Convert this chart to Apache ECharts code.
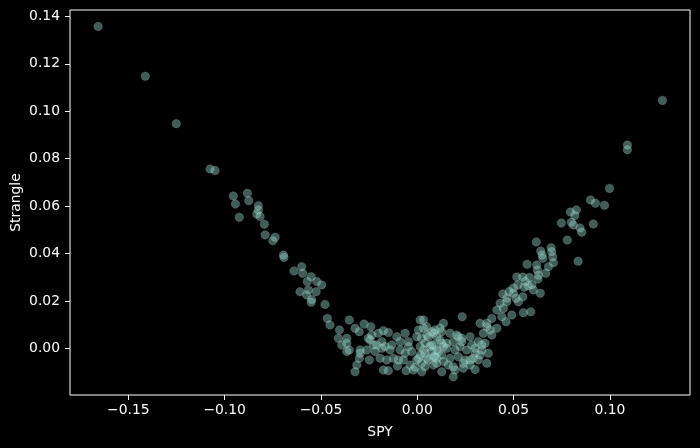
<!DOCTYPE html>
<html><head><meta charset="utf-8">
<script src="https://cdn.jsdelivr.net/npm/echarts@6/dist/echarts.min.js"></script>
<style>html,body{margin:0;padding:0;background:#000;}#c{width:700px;height:448px;}</style>
</head><body><div id="c"></div>
<script>
const spy = [
-0.1657,-0.1412,-0.1251,0.1273,0.1091,0.1091,
0.0998,0.0899,0.0925,0.0972,0.0826,0.0795,0.0818,0.0748,0.0800,0.0811,0.0914,0.0845,0.0854,0.0779,0.0618,0.0695,0.0641,0.0698,0.0648,0.0703,0.0652,0.0835,0.0707,0.0570,0.0620,0.0681,0.0624,0.0667,0.0629,0.0517,0.0548,0.0582,0.0627,0.0560,0.0522,0.0577,0.0596,0.0556,0.0499,0.0603,0.0639,0.0444,0.0477,0.0499,0.0548,0.0465,0.0513,
0.0430,0.0465,0.0525,0.0551,0.0589,0.0413,0.0447,0.0491,0.0461,0.0439,0.0387,0.0233,0.0326,0.0361,0.0413,0.0378,0.0343,0.0387,0.0136,0.0032,0.0049,0.0084,0.0127,0.0170,0.0205,0.0231,0.0274,0.0317,0.0352,0.0118,0.0153,0.0187,0.0222,0.0257,0.0300,0.0335,0.0369,0.0066,0.0101,0.0136,0.0040,0.0084,0.0127,0.0170,0.0213,0.0248,0.0291,0.0326,0.0361,0.0023,0.0058,0.0101,0.0127,0.0187,0.0196,0.0239,0.0300,0.0274,0.0161,
-0.0467,-0.0453,-0.0404,-0.0353,-0.0323,-0.0301,-0.0276,-0.0241,-0.0410,-0.0366,-0.0392,-0.0353,-0.0366,-0.0297,-0.0301,-0.0314,-0.0323,-0.0249,-0.0262,-0.0245,-0.0236,-0.0202,-0.0176,-0.0150,-0.0210,-0.0184,-0.0167,-0.0132,-0.0141,-0.0193,-0.0158,-0.0124,-0.0176,-0.0150,-0.0103,-0.0058,-0.0011,-0.0106,-0.0063,-0.0046,-0.0089,-0.0029,-0.0072,-0.0003,0.0015,0.0032,0.0049,0.0040,0.0015,0.0075,0.0092,0.0049,0.0015,0.0092,0.0101,-0.0003,
-0.1076,-0.1050,-0.0955,-0.0882,-0.0944,-0.0875,-0.0825,-0.0825,-0.0833,-0.0816,-0.0924,-0.0794,-0.0790,-0.0738,-0.0750,-0.0695,-0.0692,-0.0640,-0.0600,-0.0595,-0.0551,-0.0571,-0.0522,-0.0496,-0.0609,-0.0565,-0.0525,-0.0574,-0.0548,-0.0551,-0.0479,
0.0006,0.0075,0.0118,0.0023,0.0058,0.0084,0.0127,0.0032,0.0075,0.0110,0.0101,0.0136,0.0040,0.0084,0.0006,-0.0037,-0.0020,0.0023,-0.0089,-0.0046,-0.0063,-0.0098,
-0.0366,-0.0254,-0.0228,-0.0219,-0.0184,-0.0297,
0.0361,0.0213,0.0231,0.0283,0.0335,0.0153,0.0196,0.0300,0.0274,0.0317,0.0187,0.0239
];
const strangle = [
0.1357,0.1148,0.0948,0.1046,0.0858,0.0838,
0.0675,0.0626,0.0612,0.0604,0.0584,0.0575,0.0561,0.0529,0.0532,0.0521,0.0525,0.0508,0.0490,0.0457,0.0449,0.0425,0.0411,0.0408,0.0394,0.0387,0.0380,0.0368,0.0362,0.0355,0.0352,0.0345,0.0331,0.0317,0.0309,0.0301,0.0301,0.0299,0.0293,0.0282,0.0268,0.0265,0.0269,0.0258,0.0255,0.0247,0.0233,0.0230,0.0240,0.0233,0.0218,0.0212,0.0212,
0.0191,0.0197,0.0197,0.0151,0.0155,0.0162,0.0169,0.0141,0.0113,0.0134,0.0127,0.0134,0.0106,0.0106,0.0085,0.0078,0.0064,0.0057,0.0106,0.0120,0.0092,0.0064,0.0071,0.0064,0.0057,0.0043,0.0050,0.0029,0.0022,0.0036,0.0022,0.0029,0.0008,-0.0006,0.0001,-0.0006,-0.0020,0.0008,-0.0006,0.0008,-0.0020,-0.0035,-0.0027,-0.0041,-0.0035,-0.0048,-0.0041,-0.0027,-0.0062,-0.0062,-0.0048,-0.0062,-0.0098,-0.0119,-0.0091,-0.0083,-0.0088,-0.0070,-0.0070,
0.0127,0.0099,0.0078,0.0120,0.0085,0.0071,0.0103,0.0092,0.0043,0.0022,0.0015,-0.0006,-0.0013,-0.0006,-0.0041,-0.0070,-0.0098,-0.0048,-0.0006,0.0036,0.0057,0.0064,0.0075,0.0067,0.0015,0.0029,0.0008,0.0015,-0.0006,-0.0041,-0.0048,-0.0041,-0.0091,-0.0094,-0.0074,-0.0094,-0.0079,0.0050,0.0064,0.0029,-0.0006,-0.0013,-0.0048,-0.0048,0.0120,0.0085,0.0057,0.0022,0.0008,0.0015,-0.0035,-0.0041,-0.0027,0.0078,0.0050,0.0050,
0.0757,0.0750,0.0643,0.0654,0.0609,0.0623,0.0602,0.0584,0.0567,0.0556,0.0553,0.0524,0.0479,0.0469,0.0454,0.0394,0.0384,0.0327,0.0345,0.0317,0.0303,0.0282,0.0282,0.0268,0.0239,0.0247,0.0239,0.0226,0.0207,0.0195,0.0186,
0.0078,0.0071,0.0085,0.0043,0.0050,0.0015,0.0022,-0.0006,-0.0013,-0.0013,-0.0041,-0.0055,-0.0077,-0.0070,-0.0041,-0.0070,-0.0091,-0.0098,0.0029,0.0008,-0.0020,-0.0048,
0.0043,0.0043,0.0015,-0.0013,0.0001,-0.0020,
0.0092,0.0050,0.0029,0.0015,0.0015,0.0001,-0.0006,-0.0020,-0.0048,-0.0048,-0.0077,-0.0062
];
const xTicks = [-0.15,-0.10,-0.05,0.00,0.05,0.10];
const yTicks = [0.00,0.02,0.04,0.06,0.08,0.10,0.12,0.14];

const pts = spy.map((v,i)=>[v,strangle[i]]);
const fmt = v => (v<0?'\u2212':'') + Math.abs(v).toFixed(2);
const font = 'DejaVu Sans';
const chart = echarts.init(document.getElementById('c'), null, {renderer:'canvas'});
chart.setOption({
  backgroundColor:'#000',
  animation:false,
  grid:{left:70,right:10,top:10,bottom:53,containLabel:false,outerBoundsMode:'none',show:true,borderColor:'#fff',borderWidth:1,backgroundColor:'transparent'},
  xAxis:{type:'value',min:-0.1803,max:0.1416,
    name:'SPY',nameLocation:'middle',nameGap:30,nameMoveOverlap:false,nameTextStyle:{color:'#fff',fontFamily:font,fontSize:13.9},
    axisLine:{show:false,onZero:false},splitLine:{show:false},
    axisTick:{show:true,length:5,customValues:xTicks,lineStyle:{color:'#fff',width:1}},
    axisLabel:{customValues:xTicks,formatter:fmt,color:'#fff',fontFamily:font,fontSize:13.9,margin:8}},
  yAxis:{type:'value',min:-0.0196,max:0.1427,
    name:'Strangle',nameLocation:'middle',nameGap:47,nameRotate:90,nameMoveOverlap:false,nameTextStyle:{color:'#fff',fontFamily:font,fontSize:13.9},
    axisLine:{show:false,onZero:false},splitLine:{show:false},
    axisTick:{show:true,length:5,customValues:yTicks,lineStyle:{color:'#fff',width:1}},
    axisLabel:{customValues:yTicks,formatter:fmt,color:'#fff',fontFamily:font,fontSize:13.9,margin:10}},
  series:[{type:'scatter',data:pts,symbolSize:8.5,
    itemStyle:{color:'rgba(141,211,199,0.55)',borderColor:'rgba(255,255,255,0.3)',borderWidth:0.6}}]
});
</script></body></html>
